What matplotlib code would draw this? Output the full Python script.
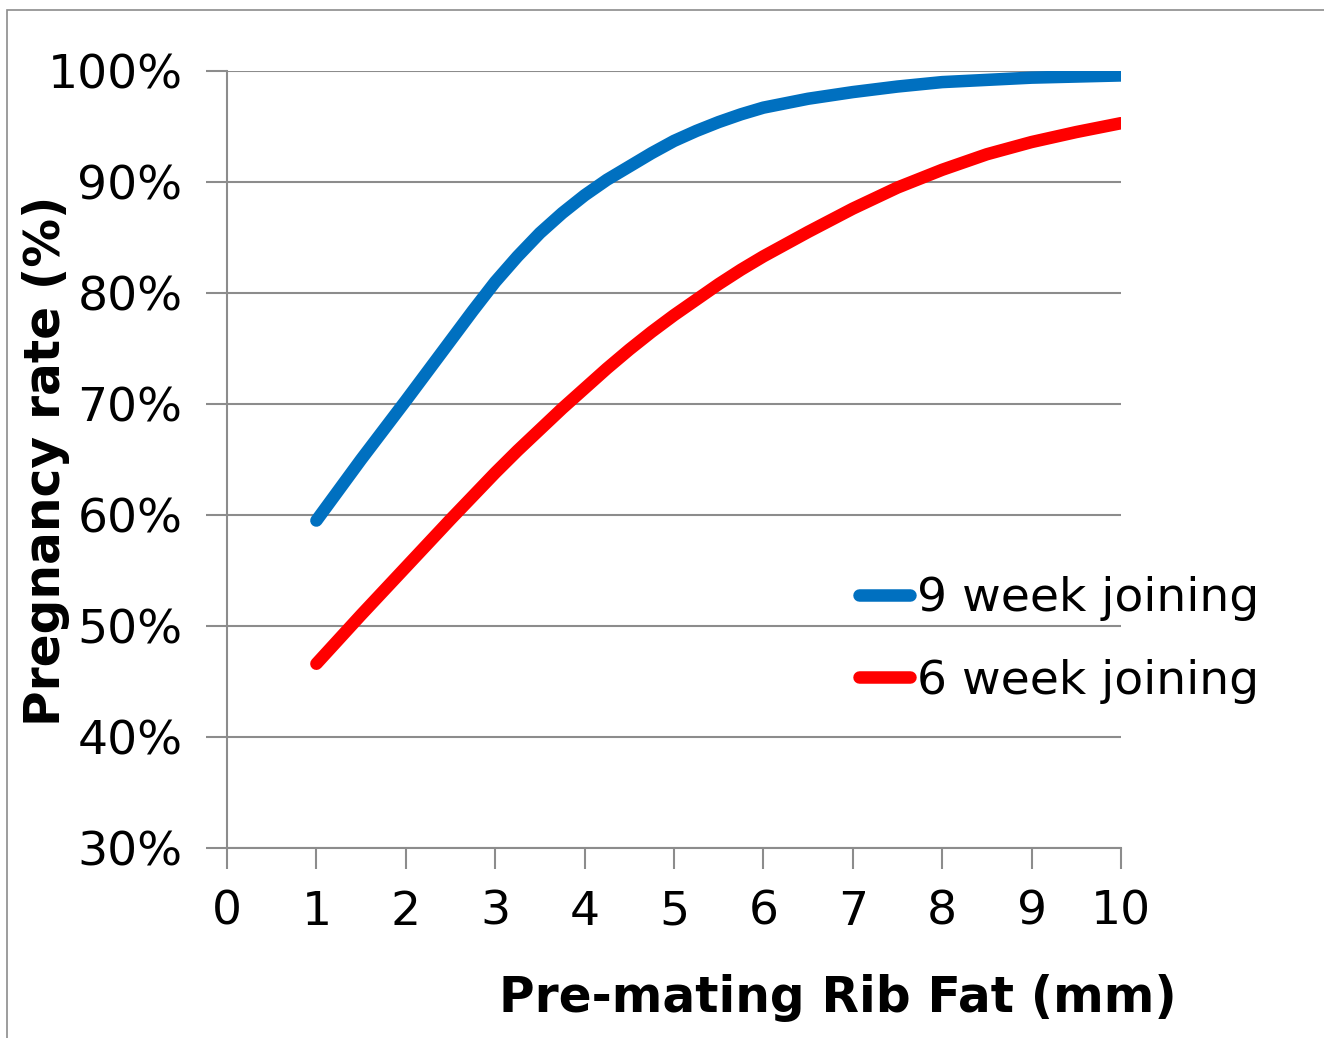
import matplotlib
matplotlib.use("Agg")
import matplotlib.pyplot as plt
from matplotlib.ticker import FuncFormatter, MultipleLocator
from matplotlib.patches import Rectangle

# values (rib fat in mm, pregnancy rate in %)
rib_fat = [1, 1.5, 2, 2.5, 2.75, 3, 3.25, 3.5, 3.75, 4, 4.25, 4.5, 4.75,
           5, 5.25, 5.5, 5.75, 6, 6.5, 7, 7.5, 8, 8.5, 9, 9.5, 10]
nine_week = [59.5, 65.0, 70.3, 75.7, 78.4, 81.0, 83.3, 85.4, 87.2, 88.8,
             90.2, 91.4, 92.6, 93.7, 94.6, 95.4, 96.1, 96.7, 97.5, 98.1,
             98.6, 99.0, 99.2, 99.4, 99.5, 99.6]
six_week = [46.6, 51.0, 55.3, 59.6, 61.7, 63.8, 65.8, 67.7, 69.6, 71.4,
            73.2, 74.9, 76.5, 78.0, 79.4, 80.8, 82.1, 83.3, 85.5, 87.6,
            89.5, 91.1, 92.5, 93.6, 94.5, 95.3]
series_labels = ["9 week joining", "6 week joining"]

W, H = 1324, 1038
GRID = "#8c8c8c"

fig = plt.figure(figsize=(W / 100, H / 100), dpi=100)
ax = fig.add_axes([227 / W, 1 - 848 / H, (1121 - 227) / W, (848 - 71) / H])

ax.plot(rib_fat, nine_week, color="#0070C0", lw=9, solid_capstyle="round",
        label=series_labels[0], zorder=3)
ax.plot(rib_fat, six_week, color="#FF0000", lw=9, solid_capstyle="round",
        label=series_labels[1], zorder=3)

ax.set_xlim(0, 10)
ax.set_ylim(30, 100)
ax.xaxis.set_major_locator(MultipleLocator(1))
ax.yaxis.set_major_locator(MultipleLocator(10))
ax.yaxis.set_major_formatter(FuncFormatter(lambda v, _: f"{v:.0f}%"))

ax.grid(axis="y", color=GRID, lw=1.5)
ax.set_axisbelow(True)
for s in ["top", "right"]:
    ax.spines[s].set_visible(False)
for s in ["left", "bottom"]:
    ax.spines[s].set_color(GRID)
    ax.spines[s].set_linewidth(1.5)
ax.tick_params(axis="both", direction="out", length=15, width=1.5,
               color=GRID, labelsize=34, labelcolor="black")
ax.tick_params(axis="y", pad=17)
ax.tick_params(axis="x", pad=15)

fig.text(838 / W, 1 - 998 / H, "Pre-mating Rib Fat (mm)", fontsize=35,
         fontweight="bold", ha="center", va="center")
fig.text(46 / W, 1 - 461 / H, "Pregnancy rate (%)", fontsize=35,
         fontweight="bold", rotation=90, ha="center", va="center")

ax.legend(loc="center left", bbox_to_anchor=(859 / W, 1 - 640 / H),
          bbox_transform=fig.transFigure, frameon=False, fontsize=34,
          handlelength=1.08, handletextpad=0.15, labelspacing=0.79,
          borderpad=0, borderaxespad=0)

# thin grey frame around the chart area
fig.patches.append(Rectangle((6.5 / W, -0.05), 1.1, 1.05 - 9.5 / H,
                             transform=fig.transFigure, fill=False,
                             edgecolor=GRID, lw=1.2))

fig.savefig("out.png", dpi=100)
